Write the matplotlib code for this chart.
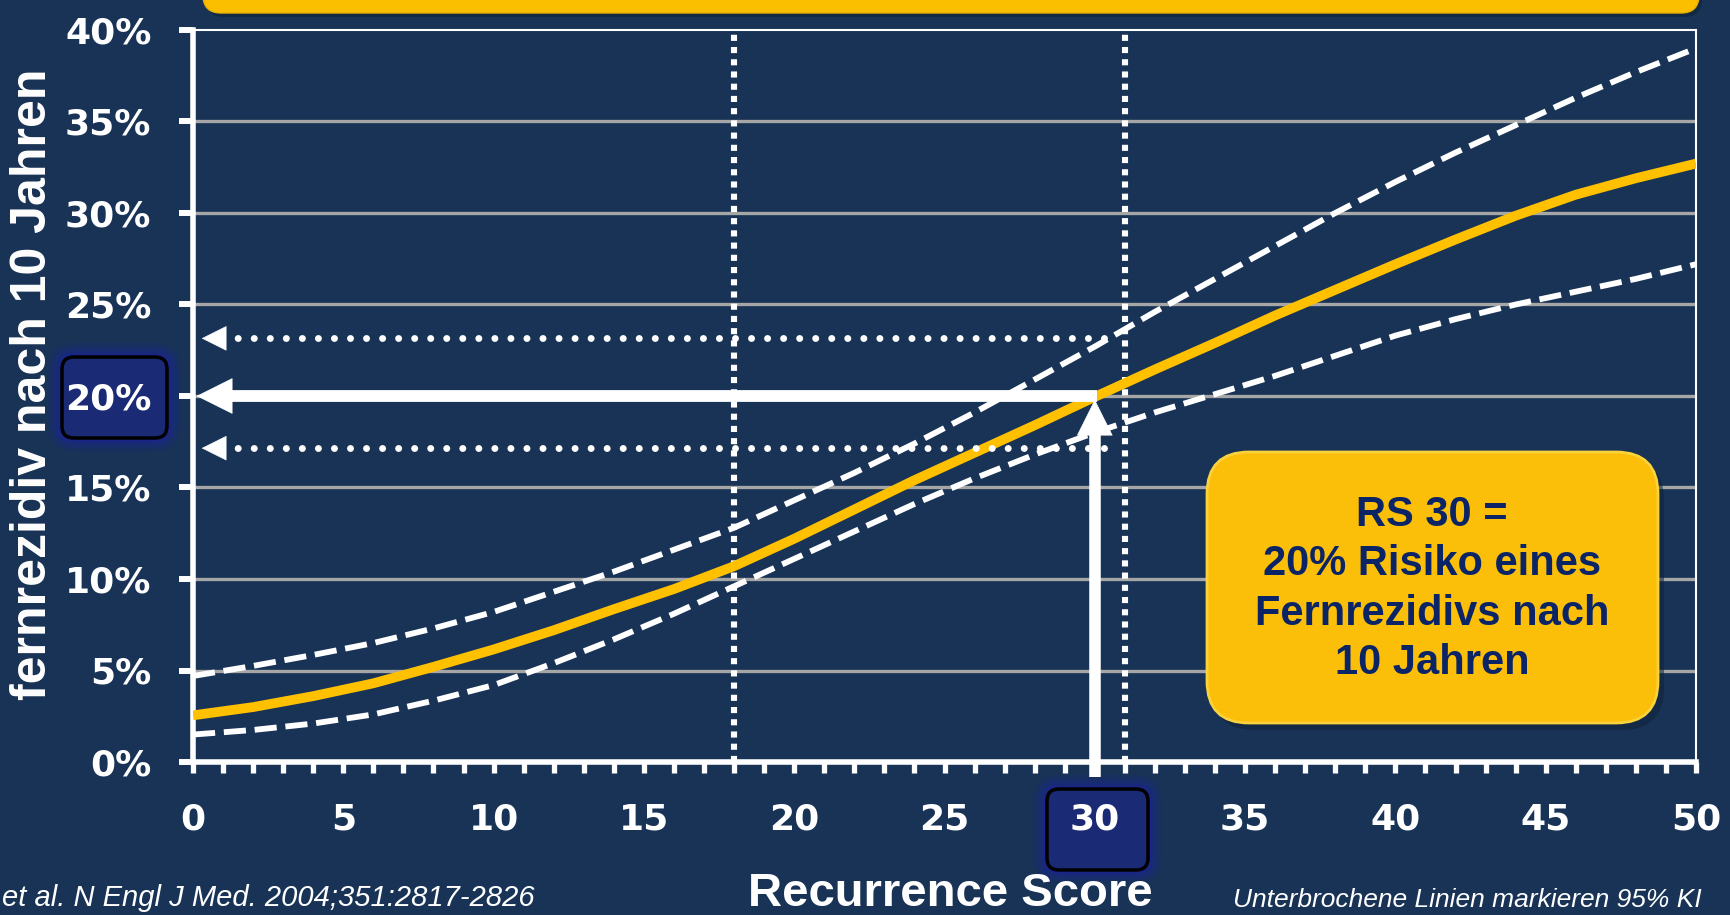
import matplotlib
matplotlib.use('Agg')
import matplotlib.pyplot as plt
from matplotlib.patches import FancyBboxPatch

# --- values (Recurrence Score vs. % distant recurrence at 10 years) ---
rs = [0, 2, 4, 6, 8, 10, 12, 14, 16, 18, 20, 22, 24, 26, 28, 30, 32, 34, 36, 38, 40, 42, 44, 46, 48, 50]
risk = [2.55, 3.0, 3.6, 4.3, 5.2, 6.15, 7.2, 8.35, 9.45, 10.7, 12.2, 13.8, 15.4, 16.9, 18.4,
        19.95, 21.45, 22.9, 24.4, 25.8, 27.2, 28.55, 29.85, 31.0, 31.9, 32.7]
ci_upper = [4.7, 5.25, 5.85, 6.5, 7.3, 8.2, 9.3, 10.4, 11.6, 12.8, 14.3, 15.8, 17.4, 19.1, 20.9,
            22.7, 24.6, 26.4, 28.2, 30.0, 31.7, 33.3, 34.8, 36.3, 37.7, 39.0]
ci_lower = [1.5, 1.75, 2.1, 2.6, 3.35, 4.2, 5.4, 6.7, 8.1, 9.6, 11.1, 12.6, 14.1, 15.5, 16.8,
            18.0, 19.1, 20.1, 21.1, 22.2, 23.3, 24.2, 25.0, 25.7, 26.4, 27.2]

cutoffs = [18, 31]          # vertical dotted lines
rs_example = 30
risk_example = 20
ci_example = [17.15, 23.15]

yticks = [0, 5, 10, 15, 20, 25, 30, 35, 40]
xticks = [0, 5, 10, 15, 20, 25, 30, 35, 40, 45, 50]

box_lines = ['RS 30 =', '20% Risiko eines', 'Fernrezidivs nach', '10 Jahren']

# --- colours ---
bg = '#183356'
gold = '#FFC000'
navy_text = '#0B2466'

W, H = 1730, 915
fig = plt.figure(figsize=(W / 100, H / 100), dpi=100)
fig.patch.set_facecolor(bg)

ax = fig.add_axes([193 / W, (H - 762) / H, (1696 - 193) / W, (762 - 30) / H])
ax.set_facecolor(bg)
ax.set_xlim(0, 50)
ax.set_ylim(0, 40)

# grid
for y in yticks[1:-1]:
    ax.axhline(y, color='#A6A6A6', lw=2.4, zorder=1)

# cutoff lines
for c in cutoffs:
    ax.axvline(c, color='white', lw=4.4, linestyle=(0, (1.0, 1.0)), dash_capstyle='butt', zorder=2)

# curves
ax.plot(rs, ci_upper, color='white', lw=4.2, linestyle=(0, (3.8, 1.5)), zorder=3)
ax.plot(rs, ci_lower, color='white', lw=4.2, linestyle=(0, (3.8, 1.5)), zorder=3)
ax.plot(rs, risk, color=gold, lw=7, solid_capstyle='butt', zorder=4)

# dotted arrows for the CI at RS 30
for yv in ci_example:
    ax.plot([rs_example + 0.3, 1.4], [yv, yv], color='white', lw=5.0,
            linestyle=(0, (0.01, 2.3)), dash_capstyle='round', zorder=5)
    ax.annotate('', xy=(0.29, yv), xytext=(1.06, yv),
                arrowprops=dict(arrowstyle='-|>,head_length=1.0,head_width=0.5',
                                mutation_scale=17, lw=0.5, color='white',
                                shrinkA=0, shrinkB=0), zorder=5)

# solid arrows RS 30 -> 20 %
ax.plot([rs_example + 0.06, 1.2], [risk_example, risk_example], color='white', lw=8.5,
        solid_capstyle='butt', zorder=6)
ax.annotate('', xy=(0.12, risk_example), xytext=(1.3, risk_example),
            arrowprops=dict(arrowstyle='-|>,head_length=1.0,head_width=0.5',
                            mutation_scale=25, lw=0.5, color='white', shrinkA=0, shrinkB=0), zorder=6)
ax.plot([rs_example, rs_example], [-0.8, 18.5], color='white', lw=8.3,
        solid_capstyle='butt', clip_on=False, zorder=6)
ax.annotate('', xy=(rs_example, risk_example - 0.2), xytext=(rs_example, 17.85),
            arrowprops=dict(arrowstyle='-|>,head_length=1.0,head_width=0.5',
                            mutation_scale=25, lw=0.5, color='white', shrinkA=0, shrinkB=0), zorder=6)

# spines and ticks
for side in ['top', 'right']:
    ax.spines[side].set_color('white')
    ax.spines[side].set_linewidth(1.5)
for side in ['left', 'bottom']:
    ax.spines[side].set_color('white')
    ax.spines[side].set_linewidth(4)

ax.set_yticks(yticks)
ax.set_yticklabels([f'{v}%' for v in yticks])
ax.set_xticks(xticks)
ax.set_xticks(range(0, 51), minor=True)
ax.set_xticklabels([str(v) for v in xticks])
ax.tick_params(axis='y', length=10, width=4.3, color='white', pad=20,
               labelsize=26, labelcolor='white', direction='out')
ax.tick_params(axis='x', which='both', length=8, width=3.8, color='white', pad=21,
               labelsize=26, labelcolor='white', direction='out')
for lab in ax.get_xticklabels() + ax.get_yticklabels():
    lab.set_fontfamily('DejaVu Sans')
    lab.set_fontweight('heavy')

# axis titles
fig.text(33 / W, (H - 384) / H, 'fernrezidiv nach 10 Jahren', rotation=90, ha='center', va='center',
         color='white', fontsize=36, fontweight='bold', family='Liberation Sans')
fig.text(748 / W, (H - 906) / H, 'Recurrence Score', ha='left', va='baseline',
         color='white', fontsize=34, fontweight='bold', family='Liberation Sans')

# footnotes
fig.text(2 / W, 3 / H, 'et al. N Engl J Med. 2004;351:2817-2826', ha='left', va='bottom',
         color='white', fontsize=21, style='italic', family='Liberation Sans')
fig.text(1233 / W, 3 / H, 'Unterbrochene Linien markieren 95% KI',
         ha='left', va='bottom', color='white', fontsize=19, style='italic', family='Liberation Sans')


def px_box(x0, y0, x1, y1, **kw):
    # box given in image pixels (origin top-left), drawn in inches so corners stay round
    return FancyBboxPatch((x0 / 100, (H - y1) / 100), (x1 - x0) / 100, (y1 - y0) / 100,
                          transform=fig.dpi_scale_trans, **kw)


# highlight boxes behind tick labels "20%" and "30"
for (x0, y0, x1, y1) in [(62, 357, 167, 438), (1047, 789, 1148, 870)]:
    for g, a in [(14, 0.12), (10, 0.2), (6, 0.3), (3, 0.45)]:
        fig.patches.append(px_box(x0 - g, y0 - g, x1 + g, y1 + g,
                                  boxstyle=f'round,pad=0,rounding_size={(12 + g) / 100}',
                                  facecolor='#1d22a0', edgecolor='none', alpha=a, zorder=-2))
    fig.patches.append(px_box(x0, y0, x1, y1, boxstyle='round,pad=0,rounding_size=0.12',
                              facecolor='#1b2a74', edgecolor='black', lw=2.5, zorder=-1))

# yellow title band (cut off at top)
fig.patches.append(px_box(206, -60, 1702, 17, boxstyle='round,pad=0,rounding_size=0.18',
                          facecolor='#0f2238', edgecolor='none', alpha=0.6, zorder=7))
fig.patches.append(px_box(203, -60, 1699, 13, boxstyle='round,pad=0,rounding_size=0.18',
                          facecolor='#FBBF00', edgecolor='#E8B000', lw=1, zorder=8))

# yellow message box
fig.patches.append(px_box(1212, 458, 1664, 730, boxstyle='round,pad=0,rounding_size=0.42',
                          facecolor='#0f2238', edgecolor='none', alpha=0.55, zorder=7))
fig.patches.append(px_box(1207, 452, 1658, 723, boxstyle='round,pad=0,rounding_size=0.42',
                          facecolor='#FBBF0A', edgecolor='#F9D23C', lw=2, zorder=8))
fig.text(1432 / W, (H - 589) / H, '\n'.join(box_lines), ha='center', va='center',
         color=navy_text, fontsize=30, fontweight='bold', family='Liberation Sans',
         linespacing=1.3, zorder=9)

fig.savefig('out.png', dpi=100, facecolor=bg)
